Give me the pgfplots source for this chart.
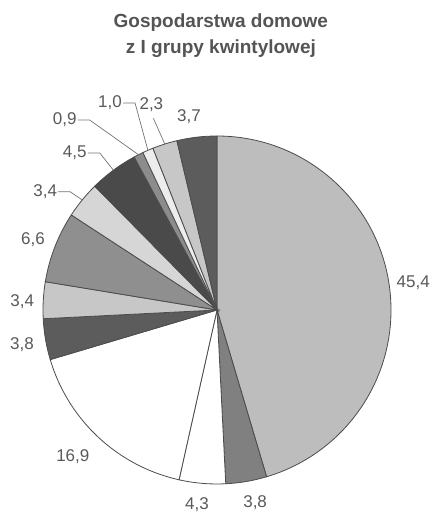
\documentclass[border=0pt]{standalone}
\usepackage{pgfplots}
\pgfplotsset{compat=1.18}
\usepackage{pgfplotstable}
\usepackage{fontspec}
\setmainfont{Liberation Sans}

\definecolor{ga}{gray}{0.74}
\definecolor{gb}{gray}{0.50}
\definecolor{wh}{gray}{1.00}
\definecolor{gc}{gray}{0.36}
\definecolor{gd}{gray}{0.78}
\definecolor{ge}{gray}{0.56}
\definecolor{gf}{gray}{0.84}
\definecolor{gg}{gray}{0.29}
\definecolor{gh}{gray}{0.55}
\definecolor{gi}{gray}{0.93}
\definecolor{edgec}{gray}{0.30}
\definecolor{labc}{gray}{0.35}
\definecolor{titlec}{gray}{0.33}
\definecolor{leadc}{gray}{0.45}

% slices clockwise from 12 o'clock
% typ: 0 plain label, 1 leader with dash to the left, 2 leader upward
% da/dr: label (or knee) angle offset and distance from centre
\pgfplotstableread{
val  col typ da   dr
45.4 ga  0   -0.5 198
3.8  gb  0   1.5  196
4.3  wh  0   -1.0 196
16.9 wh  0   -1.4 206
3.8  gc  0   0.3  198
3.4  gd  0   0.8  195
6.6  ge  0   0.4  197
3.4  gf  1   0.4  188.5
4.5  gg  1   0.2  196
0.9  gh  1   7.0  228.6
1.0  gi  1   -1.8 222.6
2.3  gd  2   0.9  202
3.7  gc  0   1.6  195
}\piedata

\tikzset{
  lab/.style={font=\fontsize{17}{20}\selectfont, text=labc, inner sep=0pt},
  lead/.style={draw=leadc, line width=0.7pt},
}
\pgfkeys{/pgf/number format/.cd, fixed, fixed zerofill, precision=1, use comma, assume math mode=true}

\begin{document}
\begin{tikzpicture}
\begin{axis}[
  hide axis, scale only axis,
  width=433pt, height=514pt,
  xmin=0, xmax=433, ymin=0, ymax=514,
  clip=false,
  title={Gospodarstwa domowe\\z I grupy kwintylowej},
  title style={at={(rel axis cs:0.51,0.974)}, anchor=north, yshift=-6pt, inner sep=0pt,
    align=center, text=titlec, font=\fontsize{19}{26}\selectfont\bfseries},
]
\def\cumv{0}
\pgfplotstablegetrowsof{\piedata}
\pgfmathtruncatemacro\nlast{\pgfplotsretval-1}
\foreach \i in {0,...,\nlast}{
  \pgfplotstablegetelem{\i}{val}\of\piedata\let\sval\pgfplotsretval
  \pgfplotstablegetelem{\i}{col}\of\piedata\let\scol\pgfplotsretval
  \pgfplotstablegetelem{\i}{typ}\of\piedata\let\ltype\pgfplotsretval
  \pgfplotstablegetelem{\i}{da}\of\piedata\let\lda\pgfplotsretval
  \pgfplotstablegetelem{\i}{dr}\of\piedata\let\ldr\pgfplotsretval
  \pgfmathsetmacro\aS{90-3.6*\cumv}
  \pgfmathsetmacro\aE{90-3.6*(\cumv+\sval)}
  \pgfmathsetmacro\aM{(\aS+\aE)/2}
  \pgfmathsetmacro\px{217+174*cos(\aS)}
  \pgfmathsetmacro\py{204+174*sin(\aS)}
  \edef\doit{\noexpand\filldraw[fill=\scol, draw=edgec, line width=0.8pt]
    (axis cs:217,204) -- (axis cs:\px,\py)
    arc[start angle=\aS, end angle=\aE, radius=174pt] -- cycle;}
  \doit
  \pgfmathsetmacro\ex{217+174*cos(\aM)}
  \pgfmathsetmacro\ey{204+174*sin(\aM)}
  \pgfmathsetmacro\kx{217+\ldr*cos(\aM+\lda)}
  \pgfmathsetmacro\ky{204+\ldr*sin(\aM+\lda)}
  \ifcase\ltype\relax
    \edef\doit{\noexpand\node[lab] at (axis cs:\kx,\ky)
      {\noexpand\pgfmathprintnumber{\sval}};}
  \or
    \pgfmathsetmacro\dx{\kx-12}
    \pgfmathsetmacro\tx{\kx-13}
    \edef\doit{\noexpand\draw[lead] (axis cs:\ex,\ey) -- (axis cs:\kx,\ky) -- (axis cs:\dx,\ky);
      \noexpand\node[lab, anchor=east] at (axis cs:\tx,\ky)
      {\noexpand\pgfmathprintnumber{\sval}};}
  \or
    \pgfmathsetmacro\tx{\kx-2}
    \pgfmathsetmacro\ty{\ky+6}
    \edef\doit{\noexpand\draw[lead] (axis cs:\ex,\ey) -- (axis cs:\kx,\ky);
      \noexpand\node[lab, anchor=south] at (axis cs:\tx,\ty)
      {\noexpand\pgfmathprintnumber{\sval}};}
  \fi
  \doit
  \pgfmathsetmacro\newc{\cumv+\sval}
  \xdef\cumv{\newc}
}
\end{axis}
\pgfresetboundingbox
\path (0,0) rectangle (433pt,514pt);
\end{tikzpicture}
\end{document}
